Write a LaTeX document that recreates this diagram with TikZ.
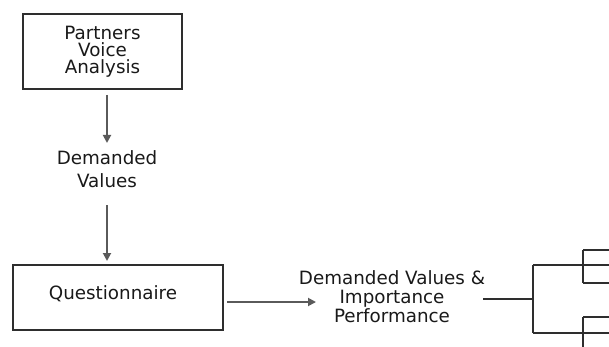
\documentclass[tikz,border=0pt]{standalone}
\usepackage{fontspec}
\setmainfont{DejaVu Sans}
\usetikzlibrary{arrows.meta}
\definecolor{ink}{HTML}{2E2E2E}
\definecolor{flow}{HTML}{5A5A5A}
\begin{document}
\begin{tikzpicture}[x=1pt,y=-1pt,
  every node/.style={font=\fontsize{18.3}{17}\selectfont, text=black!90, inner sep=0pt, align=center},
  box/.style={draw=ink, line width=1.8pt},
  flowarrow/.style={draw=flow, line width=1.8pt, -{Triangle[length=8pt,width=8pt]}},
  treeline/.style={draw=ink, line width=1.8pt}]
  \useasboundingbox (0,0) rectangle (609,347);

  % boxes
  \node[box, minimum width=159pt, minimum height=75pt] (pva) at (102.5,51.5)
    {Partners\\Voice\\Analysis};
  \node[box, minimum width=210pt, minimum height=65pt] (quest) at (118,297.5) {};
  \node (questtext) at (113,294) {Questionnaire};

  % labels between the steps
  \node[font=\fontsize{18.3}{23}\selectfont] (dv) at (107,169) {Demanded\\Values};
  \node[font=\fontsize{18.3}{19}\selectfont] (dvip) at (392,297) {Demanded Values \&\\Importance\\Performance};

  % connectors
  \coordinate (a1s) at (107,95);
  \coordinate (a1e) at (107,143);
  \coordinate (a2s) at (107,205);
  \coordinate (a2e) at (107,261);
  \draw[flowarrow] (a1s) -- (a1e);
  \draw[flowarrow] (a2s) -- (a2e);
  \coordinate (h1s) at (227,302);
  \coordinate (h1e) at (316,302);
  \draw[flowarrow] (h1s) -- (h1e);

  % branching tree on the right
  \coordinate (t0) at (483,299);
  \coordinate (tj) at (533,299);
  \coordinate (tu) at (533,265);
  \coordinate (td) at (533,333);
  \coordinate (ua) at (583,250);
  \coordinate (ub) at (583,283);
  \coordinate (la) at (583,317);
  \coordinate (lb) at (583,348);
  \draw[treeline] (t0) -- (tj);
  \draw[treeline] (tu) -- (td);
  \draw[treeline] (tu) -- (610,265);
  \draw[treeline] (td) -- (610,333);
  \draw[treeline] (ua) -- (ub);
  \draw[treeline] (ua) -- (610,250);
  \draw[treeline] (ub) -- (610,283);
  \draw[treeline] (la) -- (lb);
  \draw[treeline] (la) -- (610,317);
\end{tikzpicture}
\end{document}
